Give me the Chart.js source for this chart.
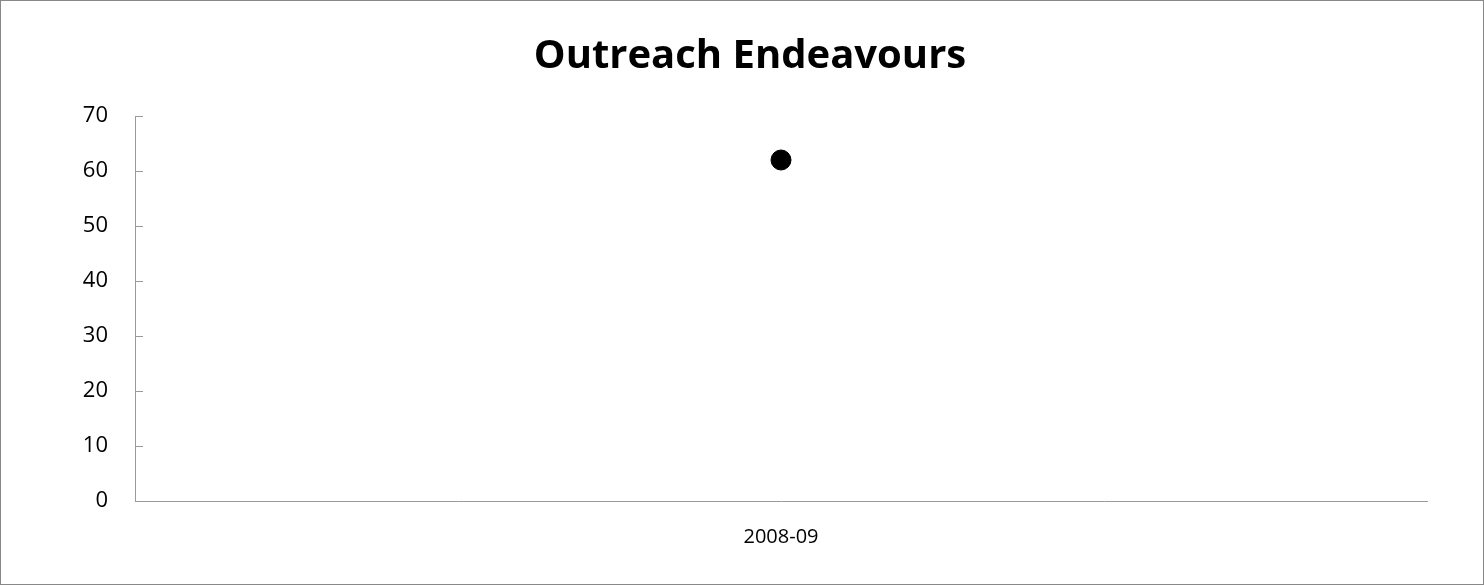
<!DOCTYPE html>
<html>
<head>
<meta charset="utf-8">
<script src="https://cdn.jsdelivr.net/npm/chart.js@4"></script>
<style>
  html, body { margin: 0; padding: 0; background: #fff; }
  #wrap { width: 1482px; height: 583px; border: 1px solid #888; }
</style>
</head>
<body>
<div id="wrap"><canvas id="outreachChart" width="1482" height="583"></canvas></div>
<script>
// chart data
const chartTitle = 'Outreach Endeavours';
const years = ['2008-09'];
const endeavours = [62];
const yTicks = [0, 10, 20, 30, 40, 50, 60, 70];

const axisGray = '#9a9a9a';
const fontFamily = '"Open Sans", "Liberation Sans", sans-serif';

// little tick marks pointing into the plot, like the original
const innerTicks = {
    id: 'innerTicks',
    afterDraw(chart) {
        const ctx = chart.ctx;
        const y = chart.scales.y;
        ctx.save();
        ctx.strokeStyle = axisGray;
        ctx.lineWidth = 1;
        yTicks.forEach(v => {
            const py = Math.round(y.getPixelForValue(v)) + 0.5;
            ctx.beginPath();
            ctx.moveTo(y.right, py);
            ctx.lineTo(y.right + 8, py);
            ctx.stroke();
        });
        ctx.restore();
    }
};

new Chart(document.getElementById('outreachChart'), {
    type: 'line',
    data: {
        labels: years,
        datasets: [{
            label: chartTitle,
            data: endeavours,
            showLine: false,
            pointRadius: 10,
            pointHoverRadius: 10,
            pointBackgroundColor: '#000',
            pointBorderColor: '#000'
        }]
    },
    options: {
        responsive: false,
        animation: false,
        // left/right padding keeps the title centred where the original has it
        layout: { padding: { left: 72, right: 56, top: 0, bottom: 0 } },
        plugins: {
            legend: { display: false },
            tooltip: { enabled: false },
            title: {
                display: true,
                text: chartTitle,
                color: '#000',
                font: { family: fontFamily, size: 40, weight: 'bold' },
                padding: { top: 32, bottom: 35 }
            }
        },
        scales: {
            x: {
                offset: true,
                grid: { display: false },
                border: { display: true, color: axisGray, width: 1 },
                ticks: { color: '#000', padding: 16, font: { family: fontFamily, size: 20 } },
                afterFit(scale) { scale.height = 83; }
            },
            y: {
                min: 0,
                max: 70,
                grid: { display: false, drawTicks: false },
                border: { display: true, color: axisGray, width: 1 },
                ticks: { stepSize: 10, color: '#000', padding: 27, font: { family: fontFamily, size: 22 } },
                afterFit(scale) { scale.width = 62; }
            }
        }
    },
    plugins: [innerTicks]
});
</script>
</body>
</html>
